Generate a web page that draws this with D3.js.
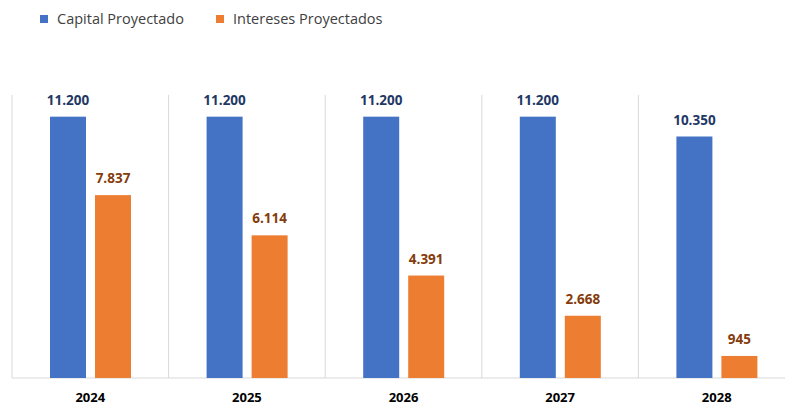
<!DOCTYPE html>
<html lang="es">
  <head>
   <meta http-equiv="Content-Type" content="text/html;charset=utf-8">
   <title>Capital e intereses proyectados</title>
   <script type="text/javascript" src="https://cdn.jsdelivr.net/npm/d3@7/dist/d3.min.js"></script>
   <style>
     body { margin: 0; background: #fff; }
     text { font-family: "Open Sans", "Liberation Sans", sans-serif; }
   </style>
  </head>
  <body>
<script>

// data
var years = ["2024", "2025", "2026", "2027", "2028"]
var series = ["Capital Proyectado", "Intereses Proyectados"]
var capital = [11200, 11200, 11200, 11200, 10350]
var intereses = [7837, 6114, 4391, 2668, 945]

var colors = ["#4472C4", "#ED7D31"]
var labelColors = ["#1F3864", "#843C0C"]

var width = 785, height = 405
var top_y = 98, base_y = 378

// spanish number format: 11.200
var es = d3.formatLocale({decimal: ",", thousands: ".", grouping: [3], currency: ["", " €"]})
var fmt = es.format(",d")

var rows = years.map(function(y, i){
  return {year: y, values: [capital[i], intereses[i]]}
})

var svg = d3.select("body").append("svg")
  .attr("width", width)
  .attr("height", height)

var x = d3.scaleBand().domain(years).range([12, 795]).paddingInner(0).paddingOuter(0)
var xSub = d3.scaleBand().domain(series).range([38, 119]).paddingInner(0.2)
var y = d3.scaleLinear().domain([0, 12000]).range([base_y, top_y])

// vertical separators between categories
svg.selectAll("line.sep").data(years.concat(["end"])).enter().append("line")
  .attr("class", "sep")
  .attr("x1", function(d, i){ return i < years.length ? x(d) : x(years[years.length-1]) + x.bandwidth() })
  .attr("x2", function(d, i){ return i < years.length ? x(d) : x(years[years.length-1]) + x.bandwidth() })
  .attr("y1", 95)
  .attr("y2", base_y)
  .attr("stroke", "#d9d9d9")
  .attr("stroke-width", 1)

// x axis
var xAxis = svg.append("g")
  .attr("transform", "translate(0," + base_y + ")")
  .call(d3.axisBottom(x).tickSize(0).tickPadding(15))
xAxis.select(".domain").attr("stroke", "#d9d9d9").attr("d", "M12,0H795")
xAxis.selectAll("text")
  .attr("font-size", 13)
  .attr("font-weight", "bold")
  .attr("fill", "#000")
  .style("font-family", "'Open Sans', sans-serif")

var groups = svg.selectAll("g.cat").data(rows).enter().append("g")
  .attr("class", "cat")
  .attr("transform", function(d){ return "translate(" + x(d.year) + ",0)" })

groups.selectAll("rect").data(function(d){
    return d.values.map(function(v, j){ return {s: series[j], j: j, v: v} })
  }).enter().append("rect")
  .attr("x", function(d){ return xSub(d.s) })
  .attr("width", xSub.bandwidth())
  .attr("y", function(d){ return y(d.v) })
  .attr("height", function(d){ return base_y - y(d.v) })
  .attr("fill", function(d){ return colors[d.j] })

groups.selectAll("text.lbl").data(function(d){
    return d.values.map(function(v, j){ return {s: series[j], j: j, v: v} })
  }).enter().append("text")
  .attr("class", "lbl")
  .attr("x", function(d){ return xSub(d.s) + xSub.bandwidth()/2 })
  .attr("y", function(d){ return y(d.v) - 12 })
  .attr("text-anchor", "middle")
  .attr("font-size", 13.5)
  .attr("font-weight", "bold")
  .attr("fill", function(d){ return labelColors[d.j] })
  .text(function(d){ return fmt(d.v) })

// legend
var legendX = [40, 216]
var legend = svg.selectAll("g.leg").data(series).enter().append("g")
  .attr("class", "leg")
  .attr("transform", function(d, i){ return "translate(" + legendX[i] + ",0)" })
legend.append("rect")
  .attr("x", 0).attr("y", 15)
  .attr("width", 8).attr("height", 8)
  .attr("fill", function(d, i){ return colors[i] })
legend.append("text")
  .attr("x", 17).attr("y", 24)
  .attr("font-size", 14.5)
  .attr("fill", "#404040")
  .text(function(d){ return d })

</script>
  </body>
</html>
